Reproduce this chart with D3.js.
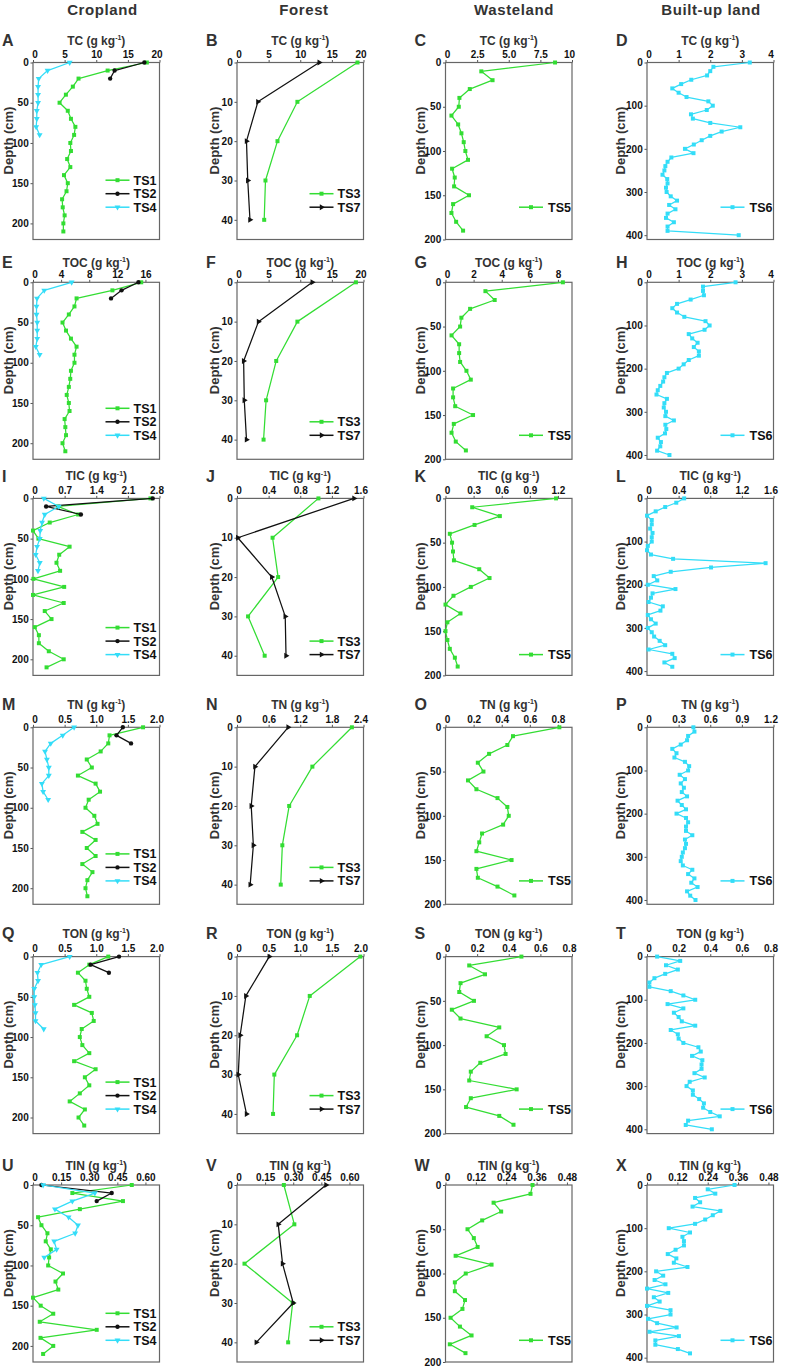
<!DOCTYPE html>
<html><head><meta charset="utf-8">
<script src="https://cdn.jsdelivr.net/npm/d3@7"></script>
<style>
body{margin:0;background:#fff}
svg{display:block}
text{font-family:"Liberation Sans",Arial,Helvetica,sans-serif;font-weight:bold;fill:#222}
</style>
</head><body>
<svg id="c" width="785" height="1370"></svg>
<script>
// ---------------- DATA ----------------
const landUses = ["Cropland", "Forest", "Wasteland", "Built-up land"];
const variables = ["TC", "TOC", "TIC", "TN", "TON", "TIN"];
const panelLetters = ["A","B","C","D","E","F","G","H","I","J","K","L","M","N","O","P","Q","R","S","T","U","V","W","X"];
const seriesByLand = [["TS1", "TS2", "TS4"], ["TS3", "TS7"], ["TS5"], ["TS6"]];

// depths (cm)
const depthTS1 = [0,10,20,30,40,50,60,70,80,90,100,110,120,130,140,150,160,170,180,190,200,210];
const depthTS2 = [0,10,20];
const depthTS4 = [0,10,20,30,40,50,60,70,80,90];
const depthTS3 = [0,10,20,30,40];
const depthTS7 = [0,10,20,30,40];
const depthTS5 = [0,10,20,30,40,50,60,70,80,90,100,110,120,130,140,150,160,170,180,190];
const depthTS6 = [0,10,20,30,40,50,60,70,80,90,100,110,120,130,140,150,160,170,180,190,200,210,220,230,240,250,260,270,280,290,300,310,320,330,340,350,360,370,380,390,400];

// TC (g/kg)
const TC_TS1 = [18.0,11.8,7.2,6.3,5.2,4.2,5.5,6.0,6.7,6.5,5.9,6.0,5.4,5.9,4.9,5.5,5.3,4.6,4.7,5.0,4.8,4.8];
const TC_TS2 = [17.6,12.9,12.2];
const TC_TS4 = [5.8,2.3,0.9,0.8,0.8,0.8,0.6,0.6,0.5,1.05];
const TC_TS3 = [19.05,9.55,6.4,4.5,4.3];
const TC_TS7 = [13.0,3.3,1.5,1.7,2.05];
const TC_TS5 = [8.66,2.83,3.72,1.92,1.10,1.05,0.47,1.0,1.26,1.44,1.57,1.78,0.52,0.73,0.68,1.86,0.6,0.47,0.84,1.39];
const TC_TS6 = [3.25,2.1,2.0,1.9,1.4,1.08,0.8,1.0,1.25,1.94,2.08,1.89,1.39,1.45,2.0,2.95,2.36,2.0,1.73,1.48,1.2,1.47,0.77,0.65,0.58,0.55,0.49,0.64,0.65,0.6,0.62,0.75,0.95,0.7,0.9,0.65,0.6,0.85,0.65,0.65,2.9];

// TOC
const TOC_TS1 = [15.4,11.3,6.2,5.9,5.1,4.2,4.7,5.4,6.2,5.9,5.9,5.4,5.3,5.1,4.8,5.1,5.2,4.5,4.6,4.7,4.2,4.6];
const TOC_TS2 = [15.0,12.6,11.1];
const TOC_TS4 = [5.5,1.6,0.57,0.5,0.5,0.6,0.6,0.6,0.4,0.95];
const TOC_TS3 = [18.8,9.55,6.2,4.6,4.2];
const TOC_TS7 = [11.9,3.4,1.05,1.15,1.5];
const TOC_TS5 = [8.35,2.84,3.5,1.75,1.13,1.04,0.43,0.97,0.97,1.04,1.49,1.8,0.54,0.54,0.69,1.96,0.59,0.43,0.73,1.45];
const TOC_TS6 = [2.8,1.77,1.77,1.8,1.38,0.95,0.8,0.95,1.18,1.85,1.98,1.82,1.32,1.43,1.6,1.48,1.64,1.64,1.32,1.16,1.0,0.63,0.55,0.51,0.42,0.34,0.3,0.63,0.55,0.53,0.6,0.58,0.85,0.58,0.61,0.57,0.34,0.44,0.42,0.32,0.71];

// TIC
const TIC_TS1 = [2.6,0.55,1.0,0.37,0.0,0.12,0.81,0.58,0.52,0.6,0.01,0.69,0.0,0.68,0.26,0.41,0.04,0.13,0.13,0.35,0.68,0.3];
const TIC_TS2 = [2.65,0.29,1.06];
const TIC_TS4 = [0.24,0.57,0.26,0.2,0.16,0.15,0.09,0.06,0.15,0.11];
const TIC_TS3 = [1.03,0.45,0.52,0.14,0.35];
const TIC_TS7 = [1.48,0.01,0.44,0.61,0.62];
const TIC_TS5 = [1.18,0.285,0.58,0.31,0.046,0.07,0.08,0.09,0.36,0.47,0.27,0.085,0.0,0.16,0.02,0.0,0.02,0.046,0.1,0.13];
const TIC_TS6 = [0.47,0.37,0.23,0.11,0.0,0.06,0.06,0.04,0.07,0.06,0.06,0.01,0.0,0.05,0.33,1.5,0.81,0.3,0.085,0.13,0.01,0.36,0.07,0.05,0.02,0.2,0.17,0.01,0.05,0.11,0.01,0.06,0.09,0.16,0.23,0.02,0.32,0.35,0.22,0.32];

// TN
const TN_TS1 = [1.74,1.21,1.19,1.07,0.85,0.93,0.71,0.99,1.06,0.88,0.83,0.97,1.02,0.78,0.99,0.85,0.99,0.78,0.94,0.86,0.83,0.86];
const TN_TS2 = [1.42,1.32,1.55];
const TN_TS4 = [0.65,0.47,0.28,0.19,0.22,0.25,0.25,0.14,0.16,0.24];
const TN_TS3 = [2.18,1.43,0.99,0.86,0.83];
const TN_TS7 = [0.97,0.34,0.27,0.31,0.25];
const TN_TS5 = [0.81,0.48,0.44,0.31,0.23,0.27,0.16,0.22,0.37,0.44,0.45,0.41,0.26,0.24,0.22,0.47,0.22,0.23,0.37,0.49];
const TN_TS6 = [0.44,0.45,0.39,0.38,0.32,0.24,0.28,0.26,0.36,0.40,0.39,0.31,0.36,0.32,0.35,0.33,0.38,0.29,0.33,0.37,0.28,0.37,0.39,0.37,0.37,0.43,0.36,0.37,0.36,0.34,0.33,0.32,0.34,0.43,0.39,0.45,0.42,0.48,0.38,0.41,0.46];

// TON
const TON_TS1 = [1.19,0.89,0.71,0.83,0.85,0.89,0.65,0.93,0.96,0.77,0.74,0.78,0.89,0.65,0.99,0.82,0.89,0.74,0.58,0.82,0.72,0.81];
const TON_TS2 = [1.36,0.91,1.2];
const TON_TS4 = [0.58,0.13,0.07,0.08,0.02,0.02,0.03,0.04,0.04,0.17];
const TON_TS3 = [1.95,1.15,0.95,0.59,0.57];
const TON_TS7 = [0.51,0.14,0.05,0.02,0.15];
const TON_TS5 = [0.48,0.15,0.25,0.095,0.087,0.18,0.04,0.095,0.34,0.26,0.37,0.38,0.22,0.16,0.15,0.45,0.16,0.13,0.34,0.43];
const TON_TS6 = [0.064,0.21,0.12,0.195,0.115,0.047,0.015,0.015,0.15,0.23,0.305,0.13,0.23,0.17,0.2,0.22,0.305,0.15,0.195,0.2,0.23,0.325,0.34,0.285,0.35,0.345,0.345,0.3,0.365,0.27,0.25,0.29,0.29,0.33,0.36,0.355,0.40,0.46,0.26,0.245,0.41];

// TIN
const TIN_TS1 = [0.527,0.21,0.48,0.25,0.027,0.045,0.077,0.068,0.095,0.086,0.081,0.16,0.12,0.135,0.0,0.041,0.108,0.036,0.34,0.04,0.108,0.054];
const TIN_TS2 = [0.045,0.42,0.34];
const TIN_TS4 = [0.054,0.33,0.21,0.117,0.19,0.24,0.225,0.113,0.126,0.06];
const TIN_TS3 = [0.25,0.306,0.04,0.297,0.273];
const TIN_TS7 = [0.475,0.22,0.243,0.3,0.103];
const TIN_TS5 = [0.344,0.336,0.19,0.22,0.145,0.087,0.112,0.127,0.04,0.182,0.08,0.037,0.037,0.077,0.067,0.02,0.057,0.103,0.017,0.079];
const TIN_TS6 = [0.346,0.24,0.27,0.19,0.21,0.18,0.29,0.26,0.23,0.19,0.086,0.17,0.14,0.146,0.146,0.113,0.082,0.116,0.106,0.16,0.036,0.064,0.03,0.073,0.0,0.084,0.027,0.05,0.0,0.093,0.093,0.004,0.04,0.117,0.01,0.126,0.033,0.033,0.122,0.17];

// axis ranges and tick labels (per land use: Cropland, Forest, Wasteland, Built-up)
const xMaxTC  = [20, 20, 10, 4];
const xMaxTOC = [18, 20, 9, 4];
const xMaxTIC = [2.8, 1.6, 1.35, 1.6];
const xMaxTN  = [2.0, 2.4, 0.9, 1.2];
const xMaxTON = [2.0, 2.0, 0.8, 0.8];
const xMaxTIN = [0.675, 0.675, 0.5, 0.5];

const xTicksTC  = [[0,5,10,15,20],[0,5,10,15,20],[0,2.5,5,7.5,10],[0,1,2,3,4]];
const xLabelsTC = [["0","5","10","15","20"],["0","5","10","15","20"],["0","2.5","5.0","7.5","10"],["0","1","2","3","4"]];
const xTicksTOC  = [[0,4,8,12,16],[0,5,10,15,20],[0,2,4,6,8],[0,1,2,3,4]];
const xLabelsTOC = [["0","4","8","12","16"],["0","5","10","15","20"],["0","2","4","6","8"],["0","1","2","3","4"]];
const xTicksTIC  = [[0,0.7,1.4,2.1,2.8],[0,0.4,0.8,1.2,1.6],[0,0.3,0.6,0.9,1.2],[0,0.4,0.8,1.2,1.6]];
const xLabelsTIC = [["0","0.7","1.4","2.1","2.8"],["0","0.4","0.8","1.2","1.6"],["0","0.3","0.6","0.9","1.2"],["0","0.4","0.8","1.2","1.6"]];
const xTicksTN  = [[0,0.5,1,1.5,2],[0,0.6,1.2,1.8,2.4],[0,0.2,0.4,0.6,0.8],[0,0.3,0.6,0.9,1.2]];
const xLabelsTN = [["0","0.5","1.0","1.5","2.0"],["0","0.6","1.2","1.8","2.4"],["0","0.2","0.4","0.6","0.8"],["0","0.3","0.6","0.9","1.2"]];
const xTicksTON  = [[0,0.5,1,1.5,2],[0,0.5,1,1.5,2],[0,0.2,0.4,0.6,0.8],[0,0.2,0.4,0.6,0.8]];
const xLabelsTON = [["0","0.5","1.0","1.5","2.0"],["0","0.5","1.0","1.5","2.0"],["0","0.2","0.4","0.6","0.8"],["0","0.2","0.4","0.6","0.8"]];
const xTicksTIN  = [[0,0.15,0.3,0.45,0.6],[0,0.15,0.3,0.45,0.6],[0,0.12,0.24,0.36,0.48],[0,0.12,0.24,0.36,0.48]];
const xLabelsTIN = [["0","0.15","0.30","0.45","0.60"],["0","0.15","0.30","0.45","0.60"],["0","0.12","0.24","0.36","0.48"],["0","0.12","0.24","0.36","0.48"]];

const yMax = [220, 45, 200, 410];
const yTicks = [[0,50,100,150,200],[0,10,20,30,40],[0,50,100,150,200],[0,100,200,300,400]];

// ---------------- TABLES BUILT FROM THE ARRAYS ----------------
const valueTable = {
  TC:  {TS1:TC_TS1, TS2:TC_TS2, TS4:TC_TS4, TS3:TC_TS3, TS7:TC_TS7, TS5:TC_TS5, TS6:TC_TS6},
  TOC: {TS1:TOC_TS1, TS2:TOC_TS2, TS4:TOC_TS4, TS3:TOC_TS3, TS7:TOC_TS7, TS5:TOC_TS5, TS6:TOC_TS6},
  TIC: {TS1:TIC_TS1, TS2:TIC_TS2, TS4:TIC_TS4, TS3:TIC_TS3, TS7:TIC_TS7, TS5:TIC_TS5, TS6:TIC_TS6},
  TN:  {TS1:TN_TS1, TS2:TN_TS2, TS4:TN_TS4, TS3:TN_TS3, TS7:TN_TS7, TS5:TN_TS5, TS6:TN_TS6},
  TON: {TS1:TON_TS1, TS2:TON_TS2, TS4:TON_TS4, TS3:TON_TS3, TS7:TON_TS7, TS5:TON_TS5, TS6:TON_TS6},
  TIN: {TS1:TIN_TS1, TS2:TIN_TS2, TS4:TIN_TS4, TS3:TIN_TS3, TS7:TIN_TS7, TS5:TIN_TS5, TS6:TIN_TS6}
};
const depthTable = {TS1:depthTS1, TS2:depthTS2, TS4:depthTS4, TS3:depthTS3, TS7:depthTS7, TS5:depthTS5, TS6:depthTS6};
const xMaxTable = {TC:xMaxTC, TOC:xMaxTOC, TIC:xMaxTIC, TN:xMaxTN, TON:xMaxTON, TIN:xMaxTIN};
const xTickTable = {TC:xTicksTC, TOC:xTicksTOC, TIC:xTicksTIC, TN:xTicksTN, TON:xTicksTON, TIN:xTicksTIN};
const xLabelTable = {TC:xLabelsTC, TOC:xLabelsTOC, TIC:xLabelsTIC, TN:xLabelsTN, TON:xLabelsTON, TIN:xLabelsTIN};

// ---------------- STYLE / LAYOUT ----------------
const GREEN = "#33dd33", CYAN = "#33ddf8", BLACK = "#111111";
const styles = {
  TS1:{color:GREEN, shape:"square"}, TS2:{color:BLACK, shape:"circle"}, TS4:{color:CYAN, shape:"tridown"},
  TS3:{color:GREEN, shape:"square"}, TS7:{color:BLACK, shape:"triright"},
  TS5:{color:GREEN, shape:"square"}, TS6:{color:CYAN, shape:"square"}
};
const colLeft = [33, 237, 445.5, 647], PW = 126.5, PH = 177;
const rowTop = [62.5, 282.3, 498.4, 727.3, 956.6, 1185];
const titleBase = [44.5, 266.5, 480, 708.5, 937.5, 1169.5];
const legendLast = [144.7, 153, 156.2, 153.6, 152.5, 155.3];
const depthLabelDx = [-24.5, -22.5, -25.5, -26.5];
const colTitleX = [102.5, 304, 514, 711];

const svg = d3.select("#c");

function symbolPath(shape) {
  if (shape === "square") return d3.symbol(d3.symbolSquare, 16)();
  if (shape === "circle") return d3.symbol(d3.symbolCircle, 15)();
  return d3.symbol(d3.symbolTriangle, 15)();
}
function symbolRot(shape) {
  if (shape === "tridown") return 180;
  if (shape === "triright") return 90;
  return 0;
}

landUses.forEach((lu, i) => {
  svg.append("text").attr("x", colTitleX[i]).attr("y", 14.5)
    .attr("text-anchor", "middle").attr("font-size", 15).attr("letter-spacing", 0.6)
    .style("fill", "#333").text(lu);
});

variables.forEach((v, r) => {
  landUses.forEach((lu, c) => {
    const left = colLeft[c], top = rowTop[r];
    const x = d3.scaleLinear().domain([0, xMaxTable[v][c]]).range([left, left + PW]);
    const y = d3.scaleLinear().domain([0, yMax[c]]).range([top, top + PH]);
    const g = svg.append("g");

    // top axis
    const ticks = xTickTable[v][c], labels = xLabelTable[v][c];
    const ax = g.append("g").attr("transform", `translate(0,${top})`)
      .call(d3.axisTop(x).tickValues(ticks).tickFormat((d, i) => labels[i]).tickSize(2.5).tickPadding(1.8));
    ax.select(".domain").remove();
    ax.selectAll("line").attr("stroke", "#555");
    ax.selectAll("text").attr("font-size", 10).attr("font-family", null).style("fill", "#111")
      .attr("dx", d => (Math.abs(d - xMaxTable[v][c]) < 1e-9 ? -3 : (d === 0 ? 1.5 : 0)));

    // left axis
    const ay = g.append("g").attr("transform", `translate(${left},0)`)
      .call(d3.axisLeft(y).tickValues(yTicks[c]).tickFormat(d3.format("d")).tickSize(2.5).tickPadding(1.8));
    ay.select(".domain").remove();
    ay.selectAll("line").attr("stroke", "#555");
    ay.selectAll("text").attr("font-size", 10).attr("font-family", null).style("fill", "#111");

    // frame
    g.append("rect").attr("x", left).attr("y", top).attr("width", PW).attr("height", PH)
      .attr("fill", "none").attr("stroke", "#666").attr("stroke-width", 1.2);

    // axis title with superscript
    const t = g.append("text").attr("x", left + PW / 2).attr("y", titleBase[r])
      .attr("text-anchor", "middle").attr("font-size", 12).style("fill", "#333");
    t.append("tspan").text(v + " (g kg");
    t.append("tspan").attr("font-size", 7).attr("dy", -4.5).text("-1");
    t.append("tspan").attr("dy", 4.5).text(")");

    // panel letter
    g.append("text").attr("x", left - 31).attr("y", titleBase[r] + 1.5)
      .attr("font-size", 16).style("fill", "#333").text(panelLetters[r * 4 + c]);

    // depth label
    g.append("text").attr("transform", `translate(${left + depthLabelDx[c]},${top + 78}) rotate(-90)`)
      .attr("text-anchor", "middle").attr("dominant-baseline", "central")
      .attr("font-size", 13).style("fill", "#333").text("Depth (cm)");

    // series
    const series = seriesByLand[c];
    const line = d3.line().x(d => x(d.v)).y(d => y(d.d));
    series.forEach(s => {
      const vals = valueTable[v][s];
      const dep = depthTable[s];
      const pts = vals.map((val, i) => ({v: val, d: dep[i]}));
      const st = styles[s];
      g.append("path").datum(pts).attr("d", line).attr("fill", "none")
        .attr("stroke", st.color).attr("stroke-width", 1.25).attr("stroke-linejoin", "round");
      g.selectAll(null).data(pts).join("path")
        .attr("d", symbolPath(st.shape))
        .attr("transform", d => `translate(${x(d.v)},${y(d.d)}) rotate(${symbolRot(st.shape)})`)
        .attr("fill", st.color);
    });

    // legend
    const n = series.length;
    const right = left + PW;
    const single = n === 1;
    const textX = right - (single ? 24 : 26);
    const l0 = textX - (single ? 29 : 28), l1 = textX - (single ? 5 : 4);
    series.forEach((s, i) => {
      const ly = top + legendLast[r] - (n - 1 - i) * 13.5;
      const st = styles[s];
      g.append("line").attr("x1", l0).attr("x2", l1).attr("y1", ly).attr("y2", ly)
        .attr("stroke", st.color).attr("stroke-width", 1.5);
      g.append("path").attr("d", symbolPath(st.shape))
        .attr("transform", `translate(${(l0 + l1) / 2},${ly}) rotate(${symbolRot(st.shape)})`)
        .attr("fill", st.color);
      g.append("text").attr("x", textX).attr("y", ly).attr("dy", "0.36em")
        .attr("font-size", 12.5).style("fill", "#111").text(s);
    });
  });
});
</script>
</body></html>
